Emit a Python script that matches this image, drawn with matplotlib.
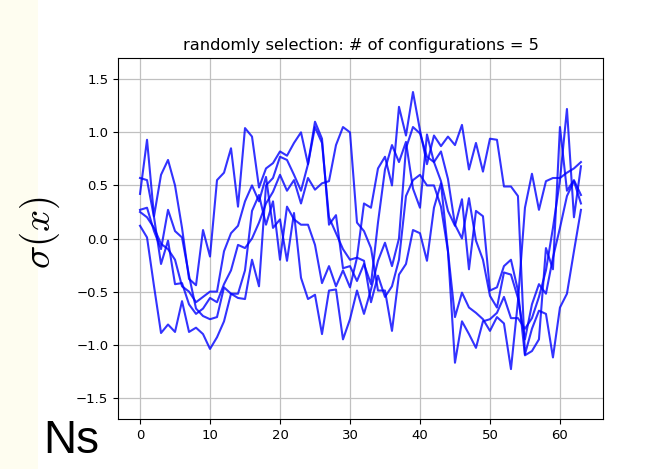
import numpy as np
import matplotlib
matplotlib.use('Agg')
import matplotlib.pyplot as plt
from matplotlib.patches import Rectangle

# ── data: 5 randomly selected configurations, 64 sites each ──
ns = np.arange(64)

config_1 = [0.42, 0.93, 0.21, 0.60, 0.74, 0.50, 0.10, -0.38, -0.44, 0.08, -0.17,
            0.55, 0.62, 0.85, 0.30, 1.04, 0.96, 0.48, 0.66, 0.71, 0.82,
            0.78, 0.90, 1.00, 0.70, 1.10, 0.94, 0.13, 0.22, -0.28, -0.26,
            -0.40, -0.24, -0.43, 0.15, 0.65, 0.88, 0.72, 0.91, 0.47, 0.29,
            0.98, 0.72, 0.54, 0.26, 0.12, 0.37, -0.29, 0.26, 0.21, -0.49,
            -0.46, -0.26, -0.20, -0.49, -1.10, -1.06, -0.95, -0.09, -0.29, 1.05,
            0.45, 0.55, 0.41]
config_2 = [0.57, 0.55, 0.20, -0.24, -0.02, -0.43, -0.42, -0.62, -0.71, -0.66, -0.56,
            -0.60, -0.43, -0.30, -0.06, -0.09, 0.00, 0.15, 0.33, 0.44, 0.60,
            0.45, 0.55, 0.33, 0.57, 0.46, 0.52, 0.54, 0.88, 1.05, 1.00,
            0.15, 0.07, -0.09, -0.49, -0.49, -0.87, -0.34, -0.24, 0.08, 0.05,
            -0.21, 0.29, 0.52, -0.12, -0.74, -0.51, -0.65, -0.70, -0.76, -0.87,
            -0.74, -0.80, -1.23, -0.59, 0.29, 0.61, 0.27, 0.54, 0.57, 0.57,
            0.62, 0.66, 0.72]
config_3 = [0.27, 0.29, 0.07, -0.10, 0.27, 0.07, 0.01, -0.35, -0.66, -0.73, -0.76,
            -0.74, -0.46, -0.52, -0.56, -0.57, -0.20, -0.45, 0.50, 0.57, 0.77,
            0.74, 0.60, 0.45, 0.70, 1.05, 0.90, 0.20, 0.05, -0.10, -0.20,
            -0.18, 0.33, 0.29, 0.66, 0.77, 0.50, 1.24, 0.97, 1.38, 1.02,
            0.70, 0.97, 0.87, 0.96, 0.88, 1.07, 0.65, 0.90, 0.63, 0.94,
            0.93, 0.49, 0.49, 0.40, -1.09, -0.85, -0.68, -0.71, -1.12, -0.65,
            -0.52, -0.12, 0.27]
config_4 = [0.25, 0.20, 0.10, -0.05, -0.10, -0.20, -0.45, -0.50, -0.60, -0.55, -0.50,
            -0.50, -0.12, 0.05, 0.12, 0.35, 0.50, 0.35, 0.58, 0.10, 0.18,
            -0.21, 0.24, -0.37, -0.57, -0.53, -0.90, -0.49, -0.48, -0.95, -0.76,
            -0.49, -0.71, -0.48, -0.21, -0.04, -0.26, 0.00, 0.85, 1.05, 0.99,
            0.77, 0.72, 0.82, 0.56, 0.13, 0.00, 0.38, -0.02, -0.20, -0.54,
            -0.65, -0.32, -0.34, -0.56, -0.95, -0.62, -0.43, -0.52, -0.18, 0.10,
            0.40, 0.54, 0.33]
config_5 = [0.12, 0.01, -0.45, -0.89, -0.81, -0.88, -0.59, -0.88, -0.84, -0.90, -1.04,
            -0.93, -0.78, -0.52, -0.52, -0.30, 0.26, 0.41, 0.13, 0.35, -0.20,
            0.30, 0.18, 0.13, 0.13, -0.06, -0.42, -0.26, -0.45, -0.30, -0.46,
            -0.18, -0.21, -0.60, -0.35, -0.55, -0.45, -0.20, 0.40, 0.55, 0.60,
            0.50, 0.50, 0.30, -0.12, -1.17, -0.78, -0.90, -1.03, -0.78, -0.76,
            -0.70, -0.55, -0.75, -0.75, -0.85, -0.75, -0.55, -0.30, 0.10, 0.55,
            1.22, 0.20, 0.68]

configs = [config_1, config_2, config_3, config_4, config_5]

# ── figure ──
plt.rcParams['mathtext.fontset'] = 'cm'
fig = plt.figure(figsize=(6.58, 4.69), dpi=100)
fig.patches.append(Rectangle((0, 0), 38 / 658, 1, transform=fig.transFigure,
                             facecolor='#fefdf0', edgecolor='none', zorder=-1))

ax = fig.add_axes([0.1793, 0.1066, 0.7371, 0.7697])
for c in configs:
    ax.plot(ns, c, color='b', alpha=0.8, lw=1.5)

ax.set_ylim(-1.7, 1.7)
ax.set_yticks([-1.5, -1.0, -0.5, 0.0, 0.5, 1.0, 1.5])
ax.set_xticks([0, 10, 20, 30, 40, 50, 60])
ax.tick_params(labelsize=9.5)
ax.grid(True, color='#c0c0c0', lw=0.9)
ax.set_title('randomly selection: # of configurations = 5', fontsize=11.7)

fig.text(0.061, 0.505, r'$\sigma(x)$', rotation=90, fontsize=28,
         ha='center', va='center')
fig.text(0.066, 0.012, 'Ns', fontsize=33, family='Liberation Sans',
         ha='left', va='bottom')

plt.savefig('out.png', dpi=100, facecolor='white')
